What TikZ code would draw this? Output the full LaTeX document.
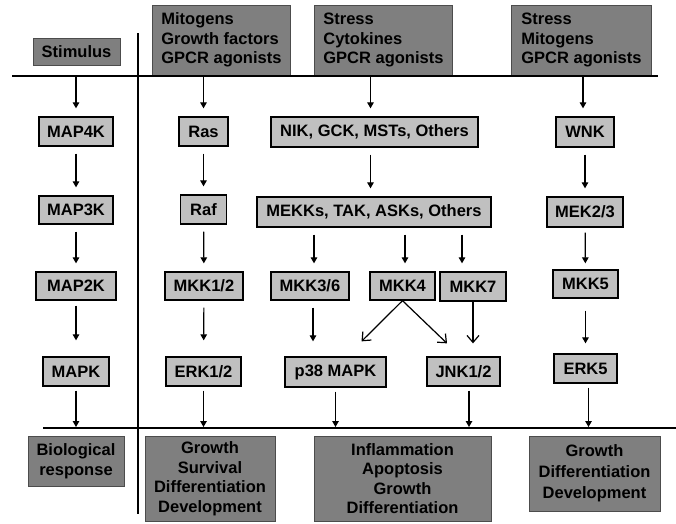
\documentclass[tikz,border=0pt]{standalone}
\usepackage{fontspec}
\setmainfont{Liberation Sans}
\usetikzlibrary{arrows.meta}
\definecolor{darkbox}{RGB}{127,127,127}
\definecolor{lightbox}{RGB}{192,192,192}
\begin{document}
\begin{tikzpicture}[x=1pt,y=-1pt,
  sz/.style 2 args={minimum width=#1, minimum height=#2},
  lbox/.style={draw=black, line width=1.3pt, fill=lightbox, inner sep=0pt,
    font=\fontsize{16.5}{19}\selectfont\bfseries},
  dbox/.style={draw=black!70, line width=0.8pt, fill=darkbox, inner sep=0pt,
    font=\fontsize{16.5}{19.5}\selectfont\bfseries, align=center},
  tbox/.style={dbox, align=left, anchor=west, minimum width=#1, minimum height=70pt},
  arr/.style={-{Triangle[length=6pt,width=6.5pt]}, line width=1.2pt,
    shorten <=7pt, shorten >=8pt},
  oarr/.style={-{Straight Barb[length=7pt,width=12pt]}, line width=1.2pt},
  rule/.style={line width=1.4pt}
]
\useasboundingbox (0,0) rectangle (676,523);

% top stimulus boxes
\node[dbox, sz={87pt}{27pt}] (stim) at (76.5,51.5) {Stimulus};
\node[tbox=138pt] (mito) at (152,40) {Mitogens\\Growth factors\\GPCR agonists};
\node[tbox=138pt] (stress1) at (314,40) {Stress\\Cytokines\\GPCR agonists};
\node[tbox=140pt] (stress2) at (511,40) {Stress\\Mitogens\\GPCR agonists};

% rules
\coordinate (tl0) at (12,76);
\coordinate (tl1) at (658,76);
\coordinate (v0) at (138,33);
\coordinate (v1) at (138,514);
\coordinate (bl0) at (43,428);
\coordinate (bl1) at (676,428);
\draw[rule] (tl0) -- (tl1);
\draw[rule] (v0) -- (v1);
\draw[rule] (bl0) -- (bl1);

% column 1
\node[lbox, sz={74pt}{29pt}] (map4k) at (76,131.5) {MAP4K};
\node[lbox, sz={74pt}{28pt}] (map3k) at (76,210) {MAP3K};
\node[lbox, sz={80pt}{28pt}] (map2k) at (76,286) {MAP2K};
\node[lbox, sz={66pt}{29pt}] (mapk) at (76,371.5) {MAPK};

% column 2
\node[lbox, sz={49pt}{29pt}] (ras) at (203.5,131.5) {Ras};
\node[lbox, sz={46pt}{29pt}] (raf) at (203.5,209.5) {Raf};
\node[lbox, sz={78pt}{28pt}] (mkk12) at (204,286) {MKK1/2};
\node[lbox, sz={75pt}{29pt}] (erk12) at (203.5,371.5) {ERK1/2};

% column 3
\node[lbox, sz={207pt}{30pt}] (nik) at (374.5,132) {NIK, GCK, MSTs, Others};
\node[lbox, sz={234pt}{30pt}] (mekk) at (374,212) {MEKKs, TAK, ASKs, Others};
\node[lbox, sz={78pt}{28pt}] (mkk36) at (310,286) {MKK3/6};
\node[lbox, sz={65pt}{28pt}] (mkk4) at (402.5,286) {MKK4};
\node[lbox, sz={66pt}{29pt}] (mkk7) at (473,286.5) {MKK7};
\node[lbox, sz={101pt}{30pt}] (p38) at (335.5,372) {p38 MAPK};
\node[lbox, sz={73pt}{29pt}] (jnk) at (463.5,371.5) {JNK1/2};

% column 4
\node[lbox, sz={58pt}{30pt}] (wnk) at (585,132) {WNK};
\node[lbox, sz={76pt}{30pt}] (mek23) at (585,212) {MEK2/3};
\node[lbox, sz={65pt}{28pt}] (mkk5) at (585.5,284) {MKK5};
\node[lbox, sz={63pt}{29pt}] (erk5) at (585.5,368.5) {ERK5};

% bottom response boxes
\node[dbox, sz={96pt}{50pt}] (bio) at (76,461) {Biological\\response};
\node[dbox, sz={130pt}{85pt}] (resp1) at (210,478.5) {Growth\\Survival\\Differentiation\\Development};
\node[dbox, sz={177pt}{85pt}] (resp2) at (402.5,478.5) {Inflammation\\Apoptosis\\Growth\\Differentiation};
\node[dbox, sz={131pt}{75pt}, font=\fontsize{16.5}{21}\selectfont\bfseries] (resp3) at (594.5,473.5) {Growth\\Differentiation\\Development};

% arrows from top rule
\draw[arr, shorten <=1pt] (map4k |- tl0) -- (map4k);
\draw[arr, shorten <=1pt] (ras |- tl0) -- (ras);
\draw[arr, shorten <=1pt] ([xshift=-4pt]nik.north |- tl0) -- ([xshift=-4pt]nik.north);
\draw[arr, shorten <=1pt] ([xshift=-2pt]wnk.north |- tl0) -- ([xshift=-2pt]wnk.north);

% column 1
\draw[arr] (map4k) -- (map3k);
\draw[arr] (map3k) -- (map2k);
\draw[arr, shorten <=5pt, shorten >=16pt] (map2k) -- (mapk);

% column 2
\draw[arr] (ras) -- (raf);
\draw[arr] (raf) -- (mkk12);
\draw[arr, shorten >=16pt] (mkk12) -- (erk12);

% column 3
\draw[arr] ([xshift=-4pt]nik.south) -- ([xshift=-4pt]nik.south |- mekk.north);
\draw[arr] ([xshift=4pt]mkk36.north |- mekk.south) -- ([xshift=4pt]mkk36.north);
\draw[arr] ([xshift=2.5pt]mkk4.north |- mekk.south) -- ([xshift=2.5pt]mkk4.north);
\draw[arr] ([xshift=-11pt]mkk7.north |- mekk.south) -- ([xshift=-11pt]mkk7.north);
\draw[arr, shorten >=15pt] ([xshift=3pt]mkk36.south) -- ([xshift=3pt]mkk36.south |- p38.north);
\draw[oarr] (mkk4.south) -- ([xshift=26pt,yshift=15pt]p38.north);
\draw[oarr] (mkk4.south) -- ([xshift=-16.5pt,yshift=13pt]jnk.north);
\draw[oarr, shorten >=13pt] (mkk7.south) -- (mkk7.south |- jnk.north);

% column 4
\draw[arr] (wnk) -- (mek23);
\draw[arr, shorten <=5pt, shorten >=6pt] (mek23) -- (mkk5);
\draw[arr, shorten <=12pt, shorten >=10pt] (mkk5) -- (erk5);

% arrows to bottom rule
\draw[arr, shorten <=4pt, shorten >=1pt] (mapk) -- (mapk |- bl0);
\draw[arr, shorten <=4pt, shorten >=1pt] (erk12) -- (erk12 |- bl0);
\draw[arr, shorten <=4pt, shorten >=1pt] (p38) -- (p38 |- bl0);
\draw[arr, shorten <=4pt, shorten >=1pt] ([xshift=5.5pt]jnk.south) -- ([xshift=5.5pt]jnk.south |- bl0);
\draw[arr, shorten <=4pt, shorten >=1pt] ([xshift=3pt]erk5.south) -- ([xshift=3pt]erk5.south |- bl0);
\end{tikzpicture}
\end{document}
